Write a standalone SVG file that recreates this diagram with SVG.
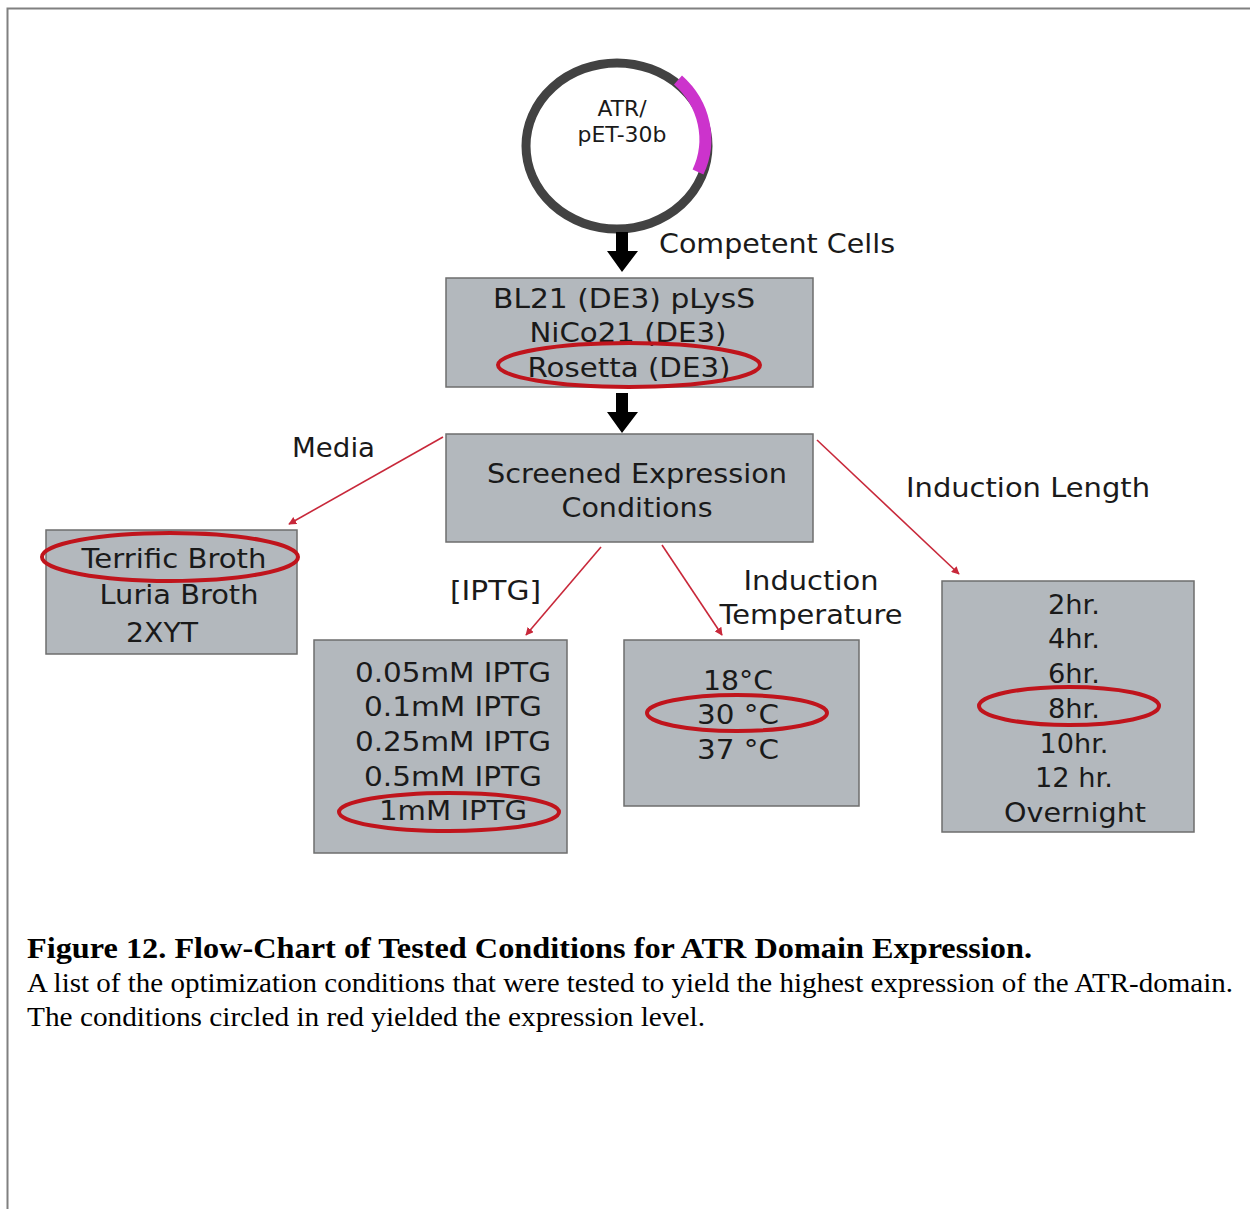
<svg xmlns="http://www.w3.org/2000/svg" width="1250" height="1209" viewBox="0 0 1250 1209">
<style>
.box{fill:#b3b8bd;stroke:#6e6e6e;stroke-width:1.5}
.t{font-family:"DejaVu Sans",Verdana,sans-serif;font-size:27px;fill:#1a1a1a;text-anchor:middle}
.lbl{font-family:"DejaVu Sans",Verdana,sans-serif;font-size:27px;fill:#1a1a1a}
.ring{fill:none;stroke:#c0141c;stroke-width:4}
.conn{stroke:#c8283a;stroke-width:1.6;fill:none;marker-end:url(#ah)}
.cap{font-family:"Liberation Serif","Times New Roman",serif;fill:#000}
</style>
<defs>
<marker id="ah" viewBox="0 0 10 10" refX="9" refY="5" markerWidth="8" markerHeight="8" markerUnits="userSpaceOnUse" orient="auto">
<path d="M0,0 L10,5 L0,10 z" fill="#c8283a"/>
</marker>
</defs>
<rect width="1250" height="1209" fill="#fff"/>
<path d="M7.5,1209 V8.5 H1250" fill="none" stroke="#808080" stroke-width="2"/>

<g id="plasmid">
<ellipse cx="617" cy="146" rx="91" ry="83" fill="#fff" stroke="#424242" stroke-width="9"/>
<path d="M678,80 A91,83 0 0 1 698,172" fill="none" stroke="#cc33cc" stroke-width="12"/>
<text class="t" x="622" y="116" style="font-size:21px" textLength="49" lengthAdjust="spacingAndGlyphs">ATR/</text>
<text class="t" x="622" y="142" style="font-size:21px" textLength="89" lengthAdjust="spacingAndGlyphs">pET-30b</text>
</g>

<g id="connectors">
<path d="M616,232 H628 V251 H638 L622,272 L607,251 H616 Z" fill="#000"/>
<path d="M616,393 H628 V412 H638 L622,433 L607,412 H616 Z" fill="#000"/>
<line class="conn" x1="443" y1="437" x2="289" y2="524"/>
<line class="conn" x1="601" y1="547" x2="526" y2="635"/>
<line class="conn" x1="662" y1="545" x2="722" y2="635"/>
<line class="conn" x1="817" y1="440" x2="959" y2="574"/>
<text class="lbl" x="659" y="253" textLength="236" lengthAdjust="spacingAndGlyphs">Competent Cells</text>
<text class="lbl" x="292" y="457" textLength="83" lengthAdjust="spacingAndGlyphs">Media</text>
<text class="lbl" x="450" y="600" textLength="91" lengthAdjust="spacingAndGlyphs">[IPTG]</text>
<text class="t" x="811" y="590" textLength="135" lengthAdjust="spacingAndGlyphs">Induction</text>
<text class="t" x="811" y="624" textLength="183" lengthAdjust="spacingAndGlyphs">Temperature</text>
<text class="lbl" x="906" y="497" textLength="244" lengthAdjust="spacingAndGlyphs">Induction Length</text>
</g>

<g id="strains">
<rect class="box" x="446" y="278" width="367" height="109"/>
<text class="t" x="624" y="308" textLength="262" lengthAdjust="spacingAndGlyphs">BL21 (DE3) pLysS</text>
<text class="t" x="628" y="342" textLength="197" lengthAdjust="spacingAndGlyphs">NiCo21 (DE3)</text>
<text class="t" x="629" y="377" textLength="203" lengthAdjust="spacingAndGlyphs">Rosetta (DE3)</text>
<ellipse class="ring" cx="629" cy="365" rx="131" ry="22"/>
</g>

<g id="screened">
<rect class="box" x="446" y="434" width="367" height="108"/>
<text class="t" x="637" y="483" textLength="300" lengthAdjust="spacingAndGlyphs">Screened Expression</text>
<text class="t" x="637" y="517" textLength="151" lengthAdjust="spacingAndGlyphs">Conditions</text>
</g>

<g id="media">
<rect class="box" x="46" y="530" width="251" height="124"/>
<text class="t" x="174" y="568" textLength="185" lengthAdjust="spacingAndGlyphs">Terrific Broth</text>
<text class="t" x="179" y="604" textLength="159" lengthAdjust="spacingAndGlyphs">Luria Broth</text>
<text class="t" x="162" y="642" textLength="72" lengthAdjust="spacingAndGlyphs">2XYT</text>
<ellipse class="ring" cx="170" cy="557" rx="128" ry="24"/>
</g>

<g id="iptg">
<rect class="box" x="314" y="640" width="253" height="213"/>
<text class="t" x="453" y="682" textLength="196" lengthAdjust="spacingAndGlyphs">0.05mM IPTG</text>
<text class="t" x="453" y="716" textLength="178" lengthAdjust="spacingAndGlyphs">0.1mM IPTG</text>
<text class="t" x="453" y="751" textLength="196" lengthAdjust="spacingAndGlyphs">0.25mM IPTG</text>
<text class="t" x="453" y="786" textLength="178" lengthAdjust="spacingAndGlyphs">0.5mM IPTG</text>
<text class="t" x="453" y="820" textLength="148" lengthAdjust="spacingAndGlyphs">1mM IPTG</text>
<ellipse class="ring" cx="449" cy="812" rx="110" ry="19"/>
</g>

<g id="temperature">
<rect class="box" x="624" y="640" width="235" height="166"/>
<text class="t" x="738" y="690" textLength="70" lengthAdjust="spacingAndGlyphs">18°C</text>
<text class="t" x="738" y="724" textLength="82" lengthAdjust="spacingAndGlyphs">30 °C</text>
<text class="t" x="738" y="759" textLength="82" lengthAdjust="spacingAndGlyphs">37 °C</text>
<ellipse class="ring" cx="737" cy="713" rx="90" ry="18"/>
</g>

<g id="length">
<rect class="box" x="942" y="581" width="252" height="251"/>
<text class="t" x="1074" y="614" textLength="52" lengthAdjust="spacingAndGlyphs">2hr.</text>
<text class="t" x="1074" y="648" textLength="52" lengthAdjust="spacingAndGlyphs">4hr.</text>
<text class="t" x="1074" y="683" textLength="52" lengthAdjust="spacingAndGlyphs">6hr.</text>
<text class="t" x="1074" y="718" textLength="52" lengthAdjust="spacingAndGlyphs">8hr.</text>
<text class="t" x="1074" y="753" textLength="69" lengthAdjust="spacingAndGlyphs">10hr.</text>
<text class="t" x="1074" y="787" textLength="78" lengthAdjust="spacingAndGlyphs">12 hr.</text>
<text class="t" x="1075" y="822" textLength="142" lengthAdjust="spacingAndGlyphs">Overnight</text>
<ellipse class="ring" cx="1069" cy="706" rx="90" ry="19"/>
</g>

<g id="caption">
<text class="cap" x="27" y="958" style="font-size:30px;font-weight:bold" textLength="1005" lengthAdjust="spacingAndGlyphs">Figure 12. Flow-Chart of Tested Conditions for ATR Domain Expression.</text>
<text class="cap" x="27" y="992" style="font-size:27px" textLength="1206" lengthAdjust="spacingAndGlyphs">A list of the optimization conditions that were tested to yield the highest expression of the ATR-domain.</text>
<text class="cap" x="27" y="1026" style="font-size:27px" textLength="678" lengthAdjust="spacingAndGlyphs">The conditions circled in red yielded the expression level.</text>
</g>
</svg>
